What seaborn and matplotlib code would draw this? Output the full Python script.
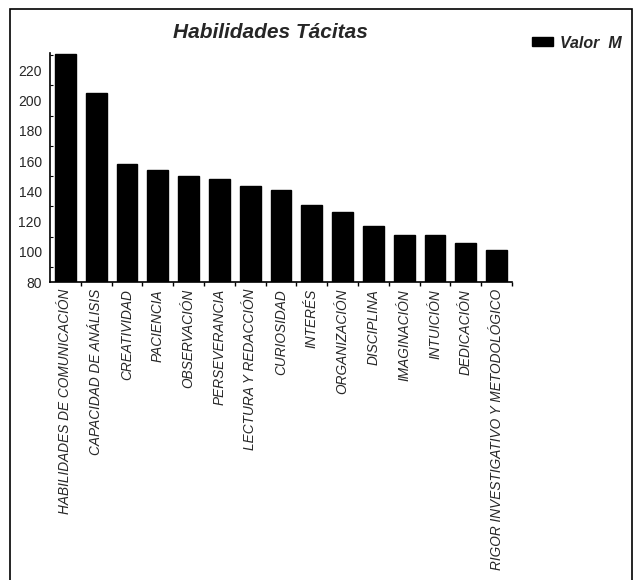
import matplotlib
matplotlib.use("Agg")
import matplotlib.pyplot as plt
import seaborn as sns
import pandas as pd
from matplotlib.ticker import MultipleLocator, FixedLocator
from matplotlib.patches import Rectangle, Patch

categories = [
    "HABILIDADES DE COMUNICACIÓN", "CAPACIDAD DE ANÁLISIS", "CREATIVIDAD",
    "PACIENCIA", "OBSERVACIÓN", "PERSEVERANCIA", "LECTURA Y REDACCIÓN",
    "CURIOSIDAD", "INTERÉS", "ORGANIZACIÓN", "DISCIPLINA", "IMAGINACIÓN",
    "INTUICIÓN", "DEDICACIÓN", "RIGOR INVESTIGATIVO Y METODOLÓGICO",
]
values = [231, 205, 158, 154, 150, 148, 143.5, 141, 131, 126, 117, 111, 111, 105.5, 101]
series_name = "Valor  M"
title = "Habilidades Tácitas"
y_ticks = [80, 100, 120, 140, 160, 180, 200, 220]

sns.set_theme(style="white")
plt.rcParams['font.family'] = ['Liberation Sans', 'DejaVu Sans']

df = pd.DataFrame({"cat": categories, "val": values})

fig = plt.figure(figsize=(6.34, 5.8), dpi=100)
ax = fig.add_axes([50/634, 1 - 282/580, (512-50)/634, (282-53)/580])

sns.barplot(data=df, x="cat", y="val", color="black", width=0.68,
            saturation=1, ax=ax, edgecolor="black")

ax.set_ylim(80, 231.5)
ax.set_xlim(-0.5, len(categories) - 0.5)
ax.set_yticks(y_ticks)
ax.yaxis.set_minor_locator(MultipleLocator(10))
ax.set_yticklabels([str(t) for t in y_ticks], fontsize=10)
ax.set_xlabel("")
ax.set_ylabel("")
ax.set_xticks(range(len(categories)))
ax.set_xticklabels(categories, rotation=90, fontsize=9.8, style="italic", va="top")
ax.xaxis.set_minor_locator(FixedLocator([i + 0.5 for i in range(len(categories))]))

for s in ["top", "right"]:
    ax.spines[s].set_visible(False)
for s in ["left", "bottom"]:
    ax.spines[s].set_color("black")
    ax.spines[s].set_linewidth(1.2)

ax.tick_params(axis="y", which="major", direction="in", length=4, width=1, color="black", pad=6)
ax.tick_params(axis="y", which="minor", direction="in", length=2.5, width=0.8, color="black", left=True)
ax.tick_params(axis="x", which="major", length=0, pad=5)
ax.tick_params(axis="x", which="minor", direction="out", length=3, width=1, color="black", bottom=True)

fig.text(270/634, 1 - 33/580, title, ha="center", va="center",
         fontsize=15, fontweight="bold", style="italic")

leg_handle = Patch(facecolor="black", edgecolor="black")
fig.legend([leg_handle], [series_name], loc="center left",
           bbox_to_anchor=(518/634, 1 - 43/580), frameon=False,
           prop={"weight": "bold", "style": "italic", "size": 11.5},
           handlelength=1.3, handleheight=0.5, handletextpad=0.4)

fig.patches.append(Rectangle((10/634, -0.05), (632-10)/634, 1.05 - 9/580,
                             transform=fig.transFigure, fill=False,
                             edgecolor="black", linewidth=1.2))

fig.savefig("out.png", dpi=100)
